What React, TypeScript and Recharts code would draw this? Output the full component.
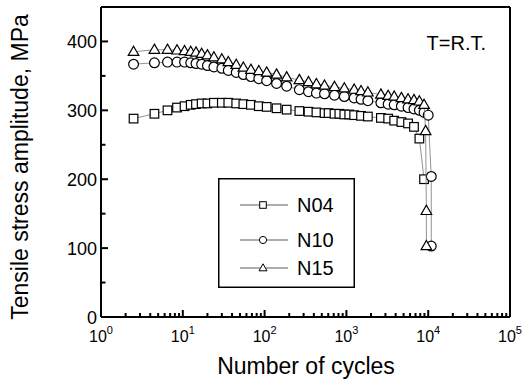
import { ScatterChart, Scatter, XAxis, YAxis, Legend, Label } from "recharts";

const FONT = "'Liberation Sans', Arial, Helvetica, sans-serif";

// cycles / stress amplitude (MPa)
const n04Cycles = [2.5, 4.5, 6.5, 8.5, 10.5, 12.5, 14.5, 17, 20, 24, 30, 36, 45, 55, 68, 85, 106, 140, 186, 266, 344, 430, 540, 606, 715, 820, 943, 1083, 1244, 1510, 1830, 2640, 3240, 3840, 4700, 5670, 6700, 7800, 8900];
const n04Stress = [288, 295, 300, 304, 306, 308, 309, 310, 310, 311, 311, 311, 310, 309, 308, 306, 305, 303, 301, 299, 298, 297, 296, 296, 295, 295, 294, 294, 293, 292, 291, 289, 288, 285, 283, 281, 276, 259, 200];

const n10Cycles = [2.5, 4.5, 6.5, 8.5, 10.5, 12.5, 14.5, 17, 20, 24, 30, 36, 45, 55, 68, 85, 106, 140, 186, 266, 344, 430, 540, 715, 943, 1244, 1510, 1830, 2640, 3240, 3840, 4700, 5670, 6700, 7800, 8900, 10000, 10900, 10900];
const n10Stress = [367, 369, 370, 370, 370, 369, 368, 367, 365, 363, 361, 358, 355, 352, 349, 346, 343, 339, 335, 330, 327, 325, 324, 322, 320, 318, 316, 314, 311, 309, 308, 306, 304, 302, 300, 297, 293, 204, 103];

const n15Cycles = [2.5, 4.5, 6.5, 8.5, 10.5, 12.5, 14.5, 17, 20, 24, 30, 36, 45, 55, 68, 85, 106, 140, 186, 266, 344, 430, 540, 715, 943, 1244, 1510, 1830, 2640, 3240, 3840, 4700, 5670, 6700, 7800, 8900, 9300, 9500, 9500];
const n15Stress = [385, 388, 388, 387, 386, 385, 384, 382, 380, 377, 374, 370, 366, 362, 359, 357, 355, 352, 348, 344, 341, 338, 336, 334, 332, 330, 328, 326, 323, 321, 320, 318, 316, 315, 313, 308, 270, 154, 103];

const seriesNames = ["N04", "N10", "N15"];

const xMajor = [1, 10, 100, 1000, 10000, 100000];
const xMinorSteps = [2, 3, 4, 5, 6, 7, 8, 9];
const yTicks = [0, 50, 100, 150, 200, 250, 300, 350, 400];
const yLabels = [0, 100, 200, 300, 400];

const xTicks = [
  ...xMajor,
  ...xMajor.slice(0, -1).flatMap((d) => xMinorSteps.map((s) => d * s)),
].sort((a, b) => a - b);

const toPoints = (xs: number[], ys: number[]) => xs.map((n, i) => ({ n, s: ys[i] }));

const n04 = toPoints(n04Cycles, n04Stress);
const n10 = toPoints(n10Cycles, n10Stress);
const n15 = toPoints(n15Cycles, n15Stress);

const SquareDot = ({ cx, cy }: any) => (
  <rect x={cx - 4.3} y={cy - 4.3} width={8.6} height={8.6} fill="#fff" stroke="#000" strokeWidth={1.2} />
);
const CircleDot = ({ cx, cy }: any) => (
  <circle cx={cx} cy={cy} r={4.9} fill="#fff" stroke="#000" strokeWidth={1.2} />
);
const TriangleDot = ({ cx, cy }: any) => (
  <polygon
    points={`${cx},${cy - 5.6} ${cx + 5.3},${cy + 3.6} ${cx - 5.3},${cy + 3.6}`}
    fill="#fff"
    stroke="#000"
    strokeWidth={1.2}
  />
);

const isMajorX = (v: number) => xMajor.includes(v);
const TICK_W = 2;

const BottomTick = ({ x, y, payload }: any) => {
  const v = payload.value;
  const major = isMajorX(v);
  return (
    <g>
      <line x1={x} x2={x} y1={y} y2={y - (major ? 7 : 4)} stroke="#000" strokeWidth={TICK_W} />
      {major && (
        <text x={x} y={y + 25} textAnchor="middle" fontSize={16} fontFamily={FONT} fill="#000">
          10
          <tspan dy={-8} fontSize={11}>
            {Math.round(Math.log10(v))}
          </tspan>
        </text>
      )}
    </g>
  );
};

const TopTick = ({ x, y, payload }: any) => {
  const major = isMajorX(payload.value);
  return (
    <line x1={x} x2={x} y1={y + 1} y2={y + 1 + (major ? 7 : 4)} stroke="#000" strokeWidth={TICK_W} />
  );
};

const LeftTick = ({ x, y, payload }: any) => {
  const v = payload.value;
  const major = yLabels.includes(v);
  return (
    <g>
      <line x1={x} x2={x + (major ? 7 : 4.5)} y1={y} y2={y} stroke="#000" strokeWidth={TICK_W} />
      {major && (
        <text x={x - 4} y={y + 6.5} textAnchor="end" fontSize={18} fontFamily={FONT} fill="#000">
          {v}
        </text>
      )}
    </g>
  );
};

const RightTick = ({ x, y, payload }: any) => {
  const major = yLabels.includes(payload.value);
  return (
    <line x1={x - 1} x2={x - 1 - (major ? 7 : 4.5)} y1={y} y2={y} stroke="#000" strokeWidth={TICK_W} />
  );
};

const legendShapes = [
  (cx: number, cy: number) => <rect x={cx - 3.3} y={cy - 3.3} width={6.6} height={6.6} fill="#fff" stroke="#000" strokeWidth={1} />,
  (cx: number, cy: number) => <circle cx={cx} cy={cy} r={3.6} fill="#fff" stroke="#000" strokeWidth={1} />,
  (cx: number, cy: number) => (
    <polygon points={`${cx},${cy - 4.2} ${cx + 4},${cy + 2.8} ${cx - 4},${cy + 2.8}`} fill="#fff" stroke="#000" strokeWidth={1} />
  ),
];
const legendRows = [27, 62, 90];

const LegendBox = () => (
  <svg width={137} height={110} style={{ display: "block" }}>
    <rect x={0.75} y={0.75} width={135.5} height={108.5} fill="#fff" stroke="#000" strokeWidth={1.5} />
    {seriesNames.map((name, i) => (
      <g key={name}>
        <line x1={22} x2={70} y1={legendRows[i]} y2={legendRows[i]} stroke="#333" strokeWidth={0.8} />
        {legendShapes[i](45, legendRows[i])}
        <text x={79} y={legendRows[i] + 7} fontSize={20} fontFamily={FONT} fill="#000">
          {name}
        </text>
      </g>
    ))}
  </svg>
);

export default function App() {
  const lineStyle = { stroke: "#777", strokeWidth: 0.8 };
  return (
    <div style={{ position: "absolute", left: 0, top: 0, background: "#fff" }}>
      <ScatterChart width={524} height={384} margin={{ top: 6, right: 13, bottom: 27, left: 41 }}>
        <XAxis
          xAxisId="b"
          dataKey="n"
          type="number"
          scale="log"
          domain={[1, 100000]}
          ticks={xTicks}
          interval={0}
          tick={<BottomTick />}
          tickLine={false}
          tickSize={0}
          tickMargin={0}
          height={40}
          axisLine={{ stroke: "#000", strokeWidth: 2 }}
        >
          <Label
            content={() => (
              <text x={306} y={374} textAnchor="middle" fontSize={23} fontFamily={FONT} fill="#000">
                Number of cycles
              </text>
            )}
          />
        </XAxis>
        <XAxis
          xAxisId="t"
          orientation="top"
          type="number"
          scale="log"
          domain={[1, 100000]}
          ticks={xTicks}
          interval={0}
          tick={<TopTick />}
          tickLine={false}
          tickSize={0}
          tickMargin={0}
          height={1}
          axisLine={{ stroke: "#000", strokeWidth: 2 }}
        />
        <YAxis
          yAxisId="l"
          dataKey="s"
          type="number"
          domain={[0, 450]}
          ticks={yTicks}
          interval={0}
          tick={<LeftTick />}
          tickLine={false}
          tickSize={0}
          tickMargin={0}
          width={60}
          axisLine={{ stroke: "#000", strokeWidth: 2 }}
        >
          <Label
            content={() => (
              <text
                x={28}
                y={167}
                transform="rotate(-90, 28, 167)"
                textAnchor="middle"
                fontSize={23}
                fontFamily={FONT}
                fill="#000"
              >
                Tensile stress amplitude, MPa
              </text>
            )}
          />
        </YAxis>
        <YAxis
          yAxisId="r"
          orientation="right"
          type="number"
          domain={[0, 450]}
          ticks={yTicks}
          interval={0}
          tick={<RightTick />}
          tickLine={false}
          tickSize={0}
          tickMargin={0}
          width={1}
          axisLine={{ stroke: "#000", strokeWidth: 2 }}
        >
          <Label
            content={() => (
              <text x={486} y={50} textAnchor="end" fontSize={20} fontFamily={FONT} fill="#000">
                T=R.T.
              </text>
            )}
          />
        </YAxis>
        <Scatter name="N04" data={n04} xAxisId="b" yAxisId="l" line={lineStyle} lineType="joint" shape={<SquareDot />} isAnimationActive={false} />
        <Scatter name="N10" data={n10} xAxisId="b" yAxisId="l" line={lineStyle} lineType="joint" shape={<CircleDot />} isAnimationActive={false} />
        <Scatter name="N15" data={n15} xAxisId="b" yAxisId="l" line={lineStyle} lineType="joint" shape={<TriangleDot />} isAnimationActive={false} />
        <Legend
          layout="horizontal"
          verticalAlign="middle"
          align="center"
          wrapperStyle={{ left: 218, top: 178, width: 137, height: 110 }}
          content={() => <LegendBox />}
        />
      </ScatterChart>
    </div>
  );
}
